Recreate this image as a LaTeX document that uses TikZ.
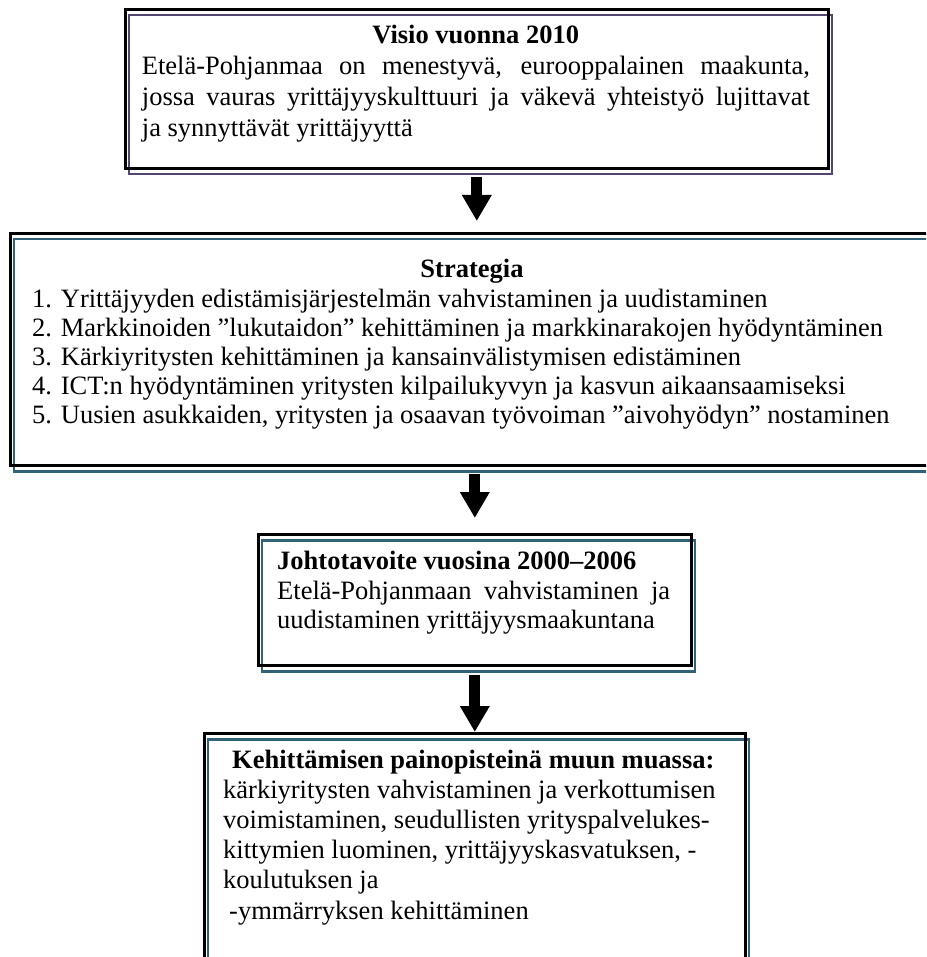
\documentclass[tikz,border=0pt]{standalone}
\usepackage{fontspec}
\setmainfont{Liberation Serif}
\usetikzlibrary{arrows.meta}
\definecolor{framepurple}{RGB}{82,70,112}
\definecolor{frameteal}{RGB}{49,98,120}

\begin{document}
\begin{tikzpicture}[x=1pt,y=-1pt,
  % black frame with a shifted coloured copy behind it
  frame/.style={draw=black,line width=2.6pt,inner sep=0pt,anchor=north west,
    preaction={draw=#1,line width=2.4pt,transform canvas={xshift=3.5pt,yshift=-6pt}}},
  txt/.style={anchor=base west,inner sep=0pt,font=\fontsize{26.5}{30}\selectfont},
  head/.style={txt,font=\fontsize{26.5}{30}\selectfont\bfseries},
  flow/.style={draw=black,line width=11pt,-{Triangle[width=28pt,length=26pt]}},
]
\useasboundingbox (0,0) rectangle (926,957);
\fill[white] (0,0) rectangle (926,957);
\clip (0,0) rectangle (926,957);

% boxes
\node[frame=framepurple,minimum width=703pt,minimum height=159pt] (visio) at (124,8) {};
\node[frame=frameteal,minimum width=940pt,minimum height=232pt] (strategia) at (9,232) {};
\node[frame=frameteal,minimum width=433pt,minimum height=131pt] (johto) at (257,533) {};
\node[frame=frameteal,minimum width=541pt,minimum height=250pt] (kehit) at (203,732) {};

% connectors
\draw[flow,shorten <=7pt,shorten >=11pt] (visio.south) -- (visio.south |- strategia.north);
\draw[flow,shorten <=7pt,shorten >=15pt] (johto.north |- strategia.south) -- (johto.north);
\draw[flow,shorten <=8pt] (johto.south) -- (kehit.north);

% vision
\node[head,anchor=base] (visioT) at (475.7,44) {Visio vuonna 2010};
\node[txt] (visioA) at (141.7,75) {\makebox[668pt][s]{Etelä-Pohjanmaa on menestyvä, eurooppalainen maakunta,}};
\node[txt] (visioB) at (141.7,106) {\makebox[668pt][s]{jossa vauras yrittäjyyskulttuuri ja väkevä yhteistyö lujittavat}};
\node[txt] (visioC) at (141.7,137) {ja synnyttävät yrittäjyyttä};

% strategy
\node[head,anchor=base] (stratT) at (472,278) {Strategia};
\node[txt] (strat1) at (32,307) {1. Yrittäjyyden edistämisjärjestelmän vahvistaminen ja uudistaminen};
\node[txt] (strat2) at (32,336) {2. Markkinoiden ”lukutaidon” kehittäminen ja markkinarakojen hyödyntäminen};
\node[txt] (strat3) at (32,365) {3. Kärkiyritysten kehittäminen ja kansainvälistymisen edistäminen};
\node[txt] (strat4) at (32,394) {4. ICT:n hyödyntäminen yritysten kilpailukyvyn ja kasvun aikaansaamiseksi};
\node[txt] (strat5) at (32,423) {5. Uusien asukkaiden, yritysten ja osaavan työvoiman ”aivohyödyn” nostaminen};

% main objective
\node[head] (johtoT) at (277,569) {Johtotavoite vuosina 2000–2006};
\node[txt] (johtoA) at (277,599) {\makebox[393pt][s]{Etelä-Pohjanmaan vahvistaminen ja}};
\node[txt] (johtoB) at (277,628) {uudistaminen yrittäjyysmaakuntana};

% focus areas
\node[head] (kehitT) at (232,768) {Kehittämisen painopisteinä muun muassa:};
\node[txt] (kehitA) at (223,798.2) {kärkiyritysten vahvistaminen ja verkottumisen};
\node[txt] (kehitB) at (223,828.4) {voimistaminen, seudullisten yrityspalvelukes-};
\node[txt] (kehitC) at (223,858.6) {kittymien luominen, yrittäjyyskasvatuksen, -};
\node[txt] (kehitD) at (223,888.8) {koulutuksen ja};
\node[txt] (kehitE) at (229,919) {-ymmärryksen kehittäminen};
\end{tikzpicture}
\end{document}
